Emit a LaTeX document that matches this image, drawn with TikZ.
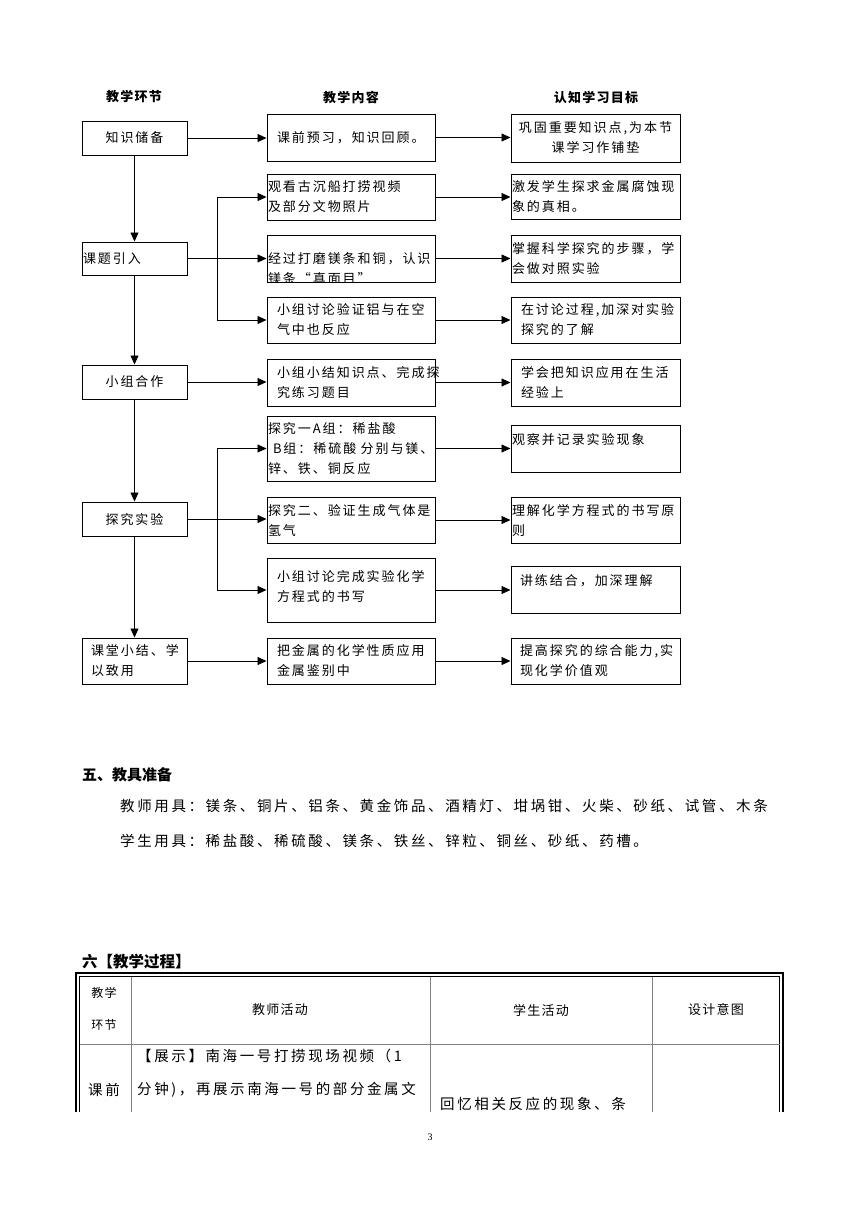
\documentclass[tikz,border=0pt]{standalone}
\usepackage{fontspec}
\setmainfont{Noto Sans CJK SC}
\newfontfamily\boxfont[LetterSpace=15]{Noto Sans CJK SC}
\newfontfamily\bodyfont[LetterSpace=18]{Noto Sans CJK SC}
\newfontfamily\headfont[LetterSpace=10]{Noto Sans CJK SC}
\newfontfamily\numfont{Liberation Serif}
\usetikzlibrary{arrows.meta}

\tikzset{
  box/.style = {draw, line width=1pt, inner xsep=1pt, inner ysep=0pt, align=left,
    font=\boxfont\fontsize{13}{20}\selectfont},
  lbox/.style = {box, minimum width=105pt, text width=103pt},
  mbox/.style = {box, minimum width=168pt, text width=166pt},
  rbox/.style = {box, minimum width=169pt, text width=167pt},
  link/.style = {-{Triangle[length=9pt,width=8pt]}, line width=0.8pt},
  colhead/.style = {font=\headfont\bfseries\fontsize{13}{13}\selectfont},
  body/.style = {anchor=west, inner sep=0pt, font=\bodyfont\fontsize{14.5}{14.5}\selectfont},
  cell/.style = {inner sep=0pt, font=\headfont\fontsize{13}{13}\selectfont},
  grid/.style = {draw=gray, line width=0.8pt}
}

\begin{document}
\begin{tikzpicture}[x=1pt,y=-1pt]
\useasboundingbox (0,0) rectangle (860,1216);

% column heads
\node[colhead] (h1) at (134,97) {教学环节};
\node[colhead] (h2) at (351,97) {教学内容};
\node[colhead] (h3) at (596,97) {认知学习目标};

% left column
\node[lbox, minimum height=34pt, align=center] (l1) at (134.5,138) {知识储备};
\node[lbox, minimum height=33pt] (l2) at (134.5,258.5) {课题引入};
\node[lbox, minimum height=34pt, align=center] (l3) at (134.5,382) {小组合作};
\node[lbox, minimum height=34pt, align=center] (l4) at (134.5,519) {探究实验};
\node[lbox, minimum height=46pt] (l5) at (134.5,661) {\hspace*{8pt}课堂小结、学\\\hspace*{8pt}以致用};

% middle column
\node[mbox, minimum height=47pt] (m1) at (351,137.5) {\hspace*{9pt}课前预习，知识回顾。};
\node[mbox, minimum height=46pt] (m2) at (351,197) {观看古沉船打捞视频\\及部分文物照片};
\node[mbox, minimum height=47pt] (m3) at (351,258.5) {};
\begin{scope}
  \clip (m3.south west) rectangle (m3.north east);
  \node[mbox, draw=none] (m3t) at (351,268.5) {经过打磨镁条和铜，认识\\镁条“真面目”};
\end{scope}
\node[mbox, minimum height=46pt] (m4) at (351,320) {\hspace*{9pt}小组讨论验证铝与在空\\\hspace*{9pt}气中也反应};
\node[mbox, minimum height=47pt] (m5) at (351,382.5) {\hspace*{9pt}小组小结知识点、完成探\\\hspace*{9pt}究练习题目};
\node[mbox, minimum height=65pt] (m6) at (351,448.5) {探究一A组：稀盐酸\\\hspace*{5pt}B组：稀硫酸 分别与镁、\\锌、铁、铜反应};
\node[mbox, minimum height=46pt] (m7) at (351,520) {探究二、验证生成气体是\\氢气};
\node[mbox, minimum height=64pt] (m8) at (351,590) {\hspace*{9pt}小组讨论完成实验化学\\\hspace*{9pt}方程式的书写\\[-12pt]\mbox{}};
\node[mbox, minimum height=46pt] (m9) at (351,661) {\hspace*{9pt}把金属的化学性质应用\\\hspace*{9pt}金属鉴别中};

% right column
\node[rbox, minimum height=48pt, align=center] (r1) at (595.5,138) {巩固重要知识点,为本节\\课学习作铺垫};
\node[rbox, minimum height=45pt] (r2) at (595.5,196.5) {激发学生探求金属腐蚀现\\象的真相。};
\node[rbox, minimum height=47pt] (r3) at (595.5,258.5) {掌握科学探究的步骤，学\\会做对照实验};
\node[rbox, minimum height=46pt] (r4) at (595.5,320) {\hspace*{9pt}在讨论过程,加深对实验\\\hspace*{9pt}探究的了解};
\node[rbox, minimum height=47pt] (r5) at (595.5,382.5) {\hspace*{9pt}学会把知识应用在生活\\\hspace*{9pt}经验上};
\node[rbox, minimum height=47pt] (r6) at (595.5,448.5) {观察并记录实验现象\\\mbox{}};
\node[rbox, minimum height=46pt] (r7) at (595.5,520) {理解化学方程式的书写原\\则};
\node[rbox, minimum height=47pt] (r8) at (595.5,589.5) {\hspace*{8pt}讲练结合，加深理解\\\mbox{}};
\node[rbox, minimum height=46pt] (r9) at (595.5,661) {\hspace*{8pt}提高探究的综合能力,实\\\hspace*{8pt}现化学价值观};

% steps down the left
\draw[link] (l1) -- (l2);
\draw[link] (l2) -- (l3);
\draw[link] (l3) -- (l4);
\draw[link] (l4) -- (l5);

% left to middle
\draw[link] (l1.east) -- (l1.east -| m1.west);
\draw[link] (l2.east) -- (l2.east -| m3.west);
\coordinate (k1) at (217,258.5);
\draw[link] (k1) |- (m2.west);
\draw[link] (k1) |- (m4.west);
\draw[link] (l3.east) -- (l3.east -| m5.west);
\draw[link] (l4.east) -- (l4.east -| m7.west);
\coordinate (k2) at (217,519);
\draw[link] (k2) |- (m6.west);
\draw[link] (k2) |- (m8.west);
\draw[link] (l5.east) -- (l5.east -| m9.west);

% middle to right
\foreach \i in {1,...,9}
  \draw[link] (m\i.east) -- (m\i.east -| r\i.west);

% section five
\node[anchor=west, inner sep=0pt, font=\bfseries\fontsize{15}{15}\selectfont] (s5) at (82,775) {五、教具准备};
\node[body] (tools1) at (120,806) {教师用具：镁条、铜片、铝条、黄金饰品、酒精灯、坩埚钳、火柴、砂纸、试管、木条};
\node[body] (tools2) at (120,841) {学生用具：稀盐酸、稀硫酸、镁条、铁丝、锌粒、铜丝、砂纸、药槽。};

% section six
\node[anchor=west, inner sep=0pt, font=\bfseries\fontsize{15.5}{15.5}\selectfont] (s6) at (82,962) {六【教学过程】};

% table
\draw[line width=1.4pt] (76,1112) -- (76,973) -- (783,973) -- (783,1112);
\draw[line width=0.7pt] (79.5,1112) -- (79.5,976.5) -- (779.5,976.5) -- (779.5,1112);
\draw[grid] (131,976.5) -- (131,1112);
\draw[grid] (430,976.5) -- (430,1112);
\draw[grid] (652,976.5) -- (652,1112);
\draw[grid] (79.5,1044) -- (779.5,1044);

\node[cell, font=\headfont\fontsize{12}{12}\selectfont] (c1) at (104,993) {教学};
\node[cell, font=\headfont\fontsize{12}{12}\selectfont] (c2) at (104,1025) {环节};
\node[cell] (c3) at (280,1010) {教师活动};
\node[cell] (c4) at (541,1010) {学生活动};
\node[cell] (c5) at (716,1010) {设计意图};
\node[body] (c6) at (88,1090) {课前};
\node[body] (c7) at (137,1056) {【展示】南海一号打捞现场视频（1};
\node[body] (c8) at (137,1090) {分钟)，再展示南海一号的部分金属文};
\node[body] (c9) at (440,1104) {回忆相关反应的现象、条};

% page number
\node[font=\numfont\fontsize{10}{10}\selectfont] (pg) at (430,1137) {3};
\end{tikzpicture}
\end{document}
